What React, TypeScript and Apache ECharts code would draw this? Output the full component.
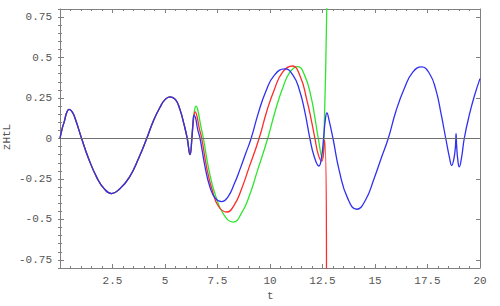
import React, { useEffect, useRef } from "react";
import * as echarts from "echarts";

// shared part of all three curves (t < 6.2)
const sharedT = [0, 0.1, 0.21, 0.32, 0.43, 0.58, 0.73, 1.03, 1.35, 1.75, 2.1, 2.46, 2.85, 3.3, 3.75, 4.13, 4.45, 4.75, 5.0, 5.24, 5.5, 5.71, 5.9, 6.06, 6.19];
const sharedV = [0, 0.06, 0.107, 0.16, 0.18, 0.165, 0.12, 0, -0.12, -0.24, -0.31, -0.34, -0.31, -0.24, -0.12, 0, 0.11, 0.19, 0.24, 0.257, 0.24, 0.18, 0.09, 0, -0.1];

const blueT = [6.28, 6.33, 6.38, 6.45, 6.55, 6.67, 6.9, 7.14, 7.4, 7.7, 8.0, 8.3, 8.6, 8.85, 9.1, 9.45, 9.8, 10.2, 10.71, 11.1, 11.4, 11.65, 11.9, 12.1, 12.33, 12.45, 12.55, 12.63, 12.71, 12.8, 13.0, 13.3, 13.7, 14.13, 14.55, 14.95, 15.3, 15.63, 16.0, 16.4, 16.8, 17.22, 17.6, 17.9, 18.15, 18.37, 18.55, 18.65, 18.75, 18.83, 18.86, 18.89, 18.95, 19.01, 19.12, 19.25, 19.5, 19.75, 20];
const blueV = [0, 0.09, 0.143, 0.13, 0.06, 0, -0.17, -0.3, -0.37, -0.39, -0.36, -0.28, -0.18, -0.09, 0, 0.16, 0.29, 0.39, 0.43, 0.39, 0.3, 0.17, 0, -0.11, -0.17, -0.12, 0, 0.11, 0.158, 0.12, 0, -0.2, -0.37, -0.437, -0.38, -0.25, -0.12, 0, 0.17, 0.31, 0.41, 0.442, 0.4, 0.3, 0.15, 0, -0.12, -0.166, -0.13, -0.05, 0.03, -0.05, -0.14, -0.175, -0.12, 0, 0.15, 0.27, 0.37];

const redT = [6.3, 6.37, 6.44, 6.52, 6.62, 6.75, 7.0, 7.25, 7.55, 7.94, 8.3, 8.65, 9.0, 9.48, 9.85, 10.2, 10.6, 11.06, 11.45, 11.75, 11.95, 12.14, 12.3, 12.46, 12.6, 12.69];
const redV = [0.03, 0.13, 0.165, 0.14, 0.07, 0, -0.19, -0.32, -0.42, -0.454, -0.41, -0.31, -0.18, 0, 0.17, 0.3, 0.41, 0.448, 0.38, 0.24, 0.125, 0, -0.1, -0.14, -0.01, -0.86];

const greenT = [6.3, 6.4, 6.48, 6.57, 6.7, 6.83, 7.1, 7.4, 7.8, 8.25, 8.65, 9.0, 9.4, 9.89, 10.25, 10.6, 10.95, 11.32, 11.65, 11.95, 12.15, 12.3, 12.49, 12.57, 12.71];
const greenV = [0.05, 0.17, 0.2, 0.17, 0.08, 0, -0.2, -0.35, -0.47, -0.516, -0.46, -0.36, -0.2, 0, 0.17, 0.31, 0.41, 0.444, 0.39, 0.26, 0.12, 0, -0.12, 0, 0.87];

const xTicks = [2.5, 5, 7.5, 10, 12.5, 15, 17.5, 20];
const yTicks = [-0.75, -0.5, -0.25, 0, 0.25, 0.5, 0.75];

const pairs = (t: number[], v: number[]) => t.map((x, i) => [x, v[i]]);

export default function App() {
  const ref = useRef<HTMLDivElement>(null);
  useEffect(() => {
    if (!ref.current) return;
    document.body.style.margin = "0";
    const chart = echarts.init(ref.current, null, { renderer: "svg" });
    const font = "Liberation Mono";
    const frame = "#808080";
    const labelStyle = { color: "#555", fontFamily: font, fontSize: 11 };
    const xAx = (pos: "bottom" | "top", labels: boolean) => ({
      type: "value",
      position: pos,
      min: 0,
      max: 20,
      interval: 2.5,
      axisLine: { show: true, onZero: false, lineStyle: { color: frame, width: 1 } },
      axisTick: { show: true, inside: true, length: 4, lineStyle: { color: frame } },
      minorTick: { show: true, splitNumber: 5, length: 2, lineStyle: { color: frame } },
      splitLine: { show: false },
      minorSplitLine: { show: false },
      axisLabel: {
        show: labels,
        margin: 7,
        ...labelStyle,
        formatter: (v: number) => (xTicks.includes(v) ? String(v) : ""),
      },
    });
    const yMajor = (pos: "left" | "right", labels: boolean) => ({
      type: "value",
      position: pos,
      min: -0.8,
      max: 0.8,
      axisLine: { show: true, onZero: false, lineStyle: { color: frame, width: 1 } },
      axisTick: { show: true, inside: true, length: 4, customValues: yTicks, lineStyle: { color: frame } },
      splitLine: { show: false },
      axisLabel: {
        show: labels,
        margin: 8,
        customValues: yTicks,
        ...labelStyle,
        formatter: (v: number) => String(v),
      },
    });
    const yMinor = (pos: "left" | "right") => ({
      type: "value",
      position: pos,
      min: -0.8,
      max: 0.8,
      interval: 0.05,
      axisLine: { show: false },
      axisTick: { show: true, inside: true, length: 2, lineStyle: { color: frame } },
      splitLine: { show: false },
      axisLabel: { show: false },
    });
    const lineSeries = (name: string, color: string, t: number[], v: number[], extra: any = {}) => ({
      name,
      type: "line",
      xAxisIndex: 0,
      yAxisIndex: 0,
      data: pairs([...sharedT, ...t], [...sharedV, ...v]),
      showSymbol: false,
      symbol: "none",
      smooth: 0.5,
      clip: true,
      lineStyle: { color, width: 1.3 },
      ...extra,
    });
    chart.setOption({
      animation: false,
      grid: { left: 60, top: 9, width: 420, height: 259, containLabel: false },
      xAxis: [xAx("bottom", true), xAx("top", false)],
      yAxis: [yMajor("left", true), yMajor("right", false), yMinor("left"), yMinor("right")],
      series: [
        lineSeries("green", "#2ee62e", greenT, greenV, {
          markLine: {
            silent: true,
            symbol: "none",
            label: { show: false },
            lineStyle: { color: "#707070", width: 1, type: "solid" },
            data: [{ yAxis: 0 }],
          },
        }),
        lineSeries("red", "#ff2a2a", redT, redV),
        lineSeries("blue", "#3030f0", blueT, blueV),
      ],
      graphic: [
        {
          type: "text",
          left: 267,
          top: 290,
          style: { text: "t", fill: "#555", font: `11px ${font}` },
        },
        {
          type: "text",
          x: 7,
          y: 137,
          rotation: Math.PI / 2,
          style: {
            text: "zHtL",
            fill: "#555",
            font: `11px ${font}`,
            align: "center",
            verticalAlign: "middle",
          },
        },
      ],
    });
    return () => chart.dispose();
  }, []);
  return <div ref={ref} style={{ width: 500, height: 306 }} />;
}
